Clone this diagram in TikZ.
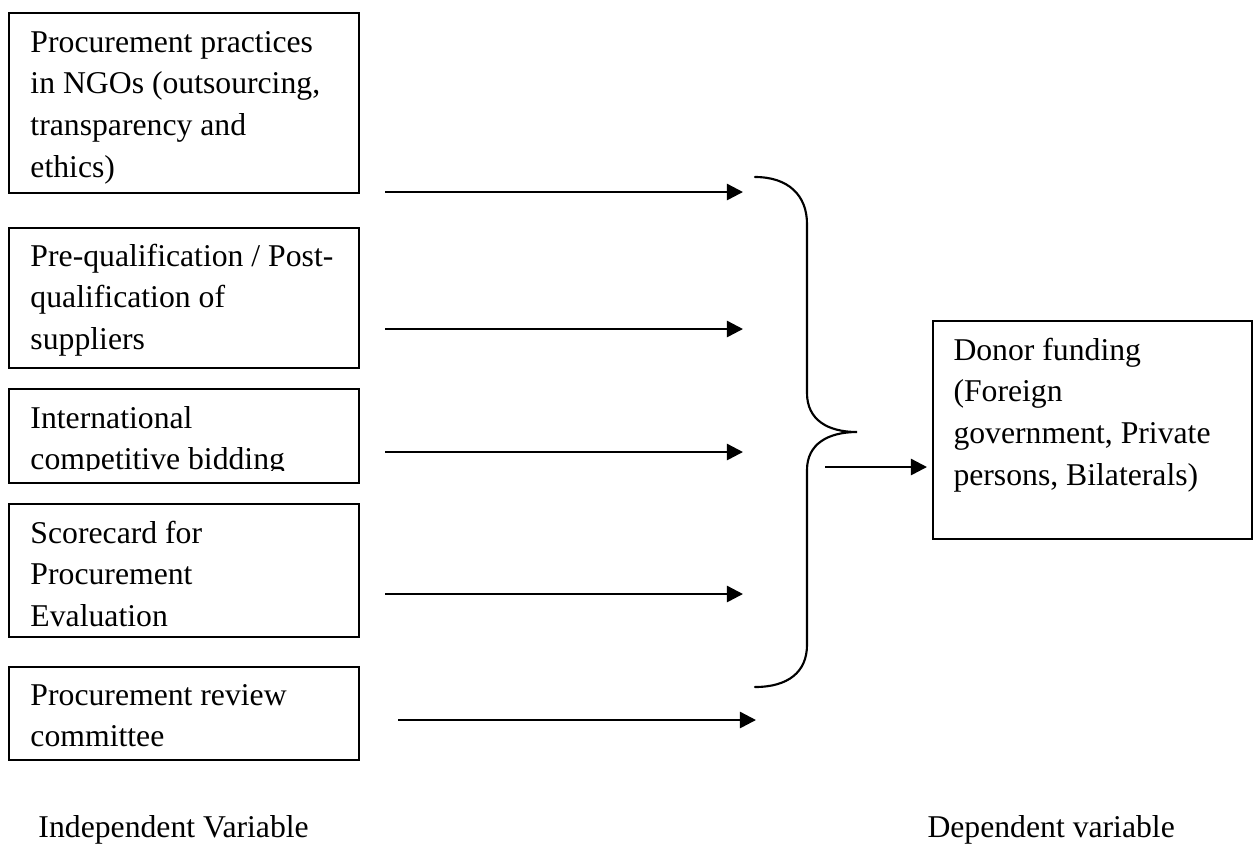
\documentclass[tikz,border=0pt]{standalone}
\usepackage{fontspec}
\setmainfont{Liberation Serif}
\usetikzlibrary{arrows.meta}
\begin{document}
\begin{tikzpicture}[x=0.4pt,y=-0.4pt,
  box/.style={draw,line width=0.8pt,inner sep=0pt,anchor=north west},
  txt/.style={anchor=base west,inner sep=0pt,font=\fontsize{12.68}{16.7}\selectfont},
  conn/.style={line width=1pt,-{Triangle[length=6.5pt,width=6.5pt]}},
  bracestyle/.style={line width=0.85pt,line cap=round}]
\useasboundingbox (0,0) rectangle (1254,843);
% boxes
\node[box,minimum width=140pt,minimum height=72pt] (b1) at (8,12) {};
\node[box,minimum width=140pt,minimum height=56pt] (b2) at (8,227) {};
\node[box,minimum width=140pt,minimum height=37.6pt] (b3) at (8,388) {};
\node[box,minimum width=140pt,minimum height=53.2pt] (b4) at (8,503) {};
\node[box,minimum width=140pt,minimum height=37.2pt] (b5) at (8,666) {};
\node[box,minimum width=127.6pt,minimum height=87.2pt] (rb) at (932,320) {};
% texts
\node[txt] (t1) at (30,52) {\begin{tabular}[t]{@{}l@{}}Procurement practices\\in NGOs (outsourcing,\\transparency and\\ethics)\end{tabular}};
\node[txt] (t2) at (30,266) {\begin{tabular}[t]{@{}l@{}}Pre-qualification / Post-\\qualification of\\suppliers\end{tabular}};
\begin{scope}
\clip (8,388) rectangle (358,470);
\node[txt] (t3) at (30,428) {\begin{tabular}[t]{@{}l@{}}International\\competitive bidding\end{tabular}};
\end{scope}
\begin{scope}
\clip (8,503) rectangle (358,627);
\node[txt] (t4) at (30,543) {\begin{tabular}[t]{@{}l@{}}Scorecard for\\Procurement\\Evaluation\end{tabular}};
\end{scope}
\node[txt] (t5) at (30,705) {\begin{tabular}[t]{@{}l@{}}Procurement review\\committee\end{tabular}};
\node[txt] (tr) at (953,360) {\begin{tabular}[t]{@{}l@{}}Donor funding\\(Foreign\\government, Private\\persons, Bilaterals)\end{tabular}};
% arrows
\coordinate (s1) at (385,192); \coordinate (e1) at (743,192);
\coordinate (s2) at (385,329); \coordinate (e2) at (743,329);
\coordinate (s3) at (385,452); \coordinate (e3) at (743,452);
\coordinate (s4) at (385,594); \coordinate (e4) at (743,594);
\coordinate (s5) at (398,720); \coordinate (e5) at (756,720);
\coordinate (so) at (825,467); \coordinate (eo) at (927,467);
\draw[conn] (s1) -- (e1);
\draw[conn] (s2) -- (e2);
\draw[conn] (s3) -- (e3);
\draw[conn] (s4) -- (e4);
\draw[conn] (s5) -- (e5);
\draw[conn] (so) -- (eo);
% brace
\draw[bracestyle] (755,177) .. controls (788,177) and (807,195) .. (807,224)
  -- (807,393) .. controls (807,420) and (828,432) .. (857,432)
  .. controls (828,432) and (807,444) .. (807,470)
  -- (807,645) .. controls (807,672) and (788,687) .. (755,687);
% labels
\node[txt] (iv) at (38,837) {Independent Variable};
\node[txt] (dv) at (927,837) {Dependent variable};
\end{tikzpicture}
\end{document}
